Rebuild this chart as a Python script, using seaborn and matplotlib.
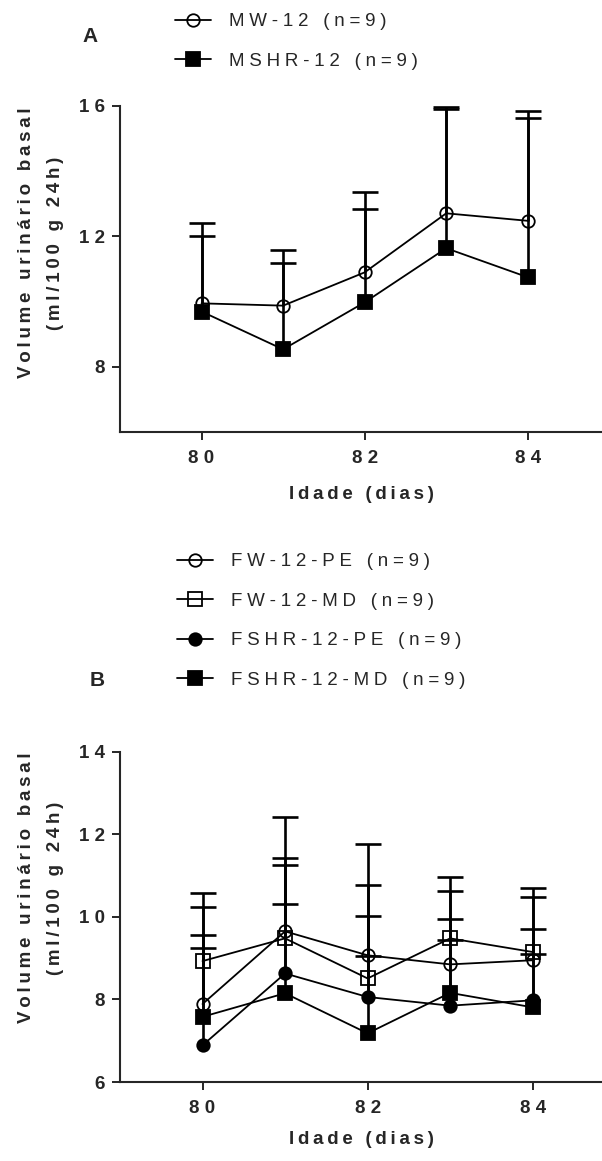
import numpy as np
import pandas as pd
import seaborn as sns
import matplotlib
matplotlib.use("Agg")
import matplotlib.pyplot as plt

# dias de idade
days = [80, 81, 82, 83, 84]

# painel A (machos)
mw_12 = [9.94, 9.87, 10.89, 12.70, 12.47]
mw_12_sd = [2.46, 1.72, 2.46, 3.20, 3.36]
mshr_12 = [9.69, 8.53, 9.97, 11.63, 10.74]
mshr_12_sd = [2.31, 2.64, 2.86, 4.32, 4.87]

# painel B (femeas)
fw_pe = [7.89, 9.65, 9.07, 8.85, 8.95]
fw_pe_sd = [2.35, 2.76, 2.69, 1.77, 1.53]
fw_md = [8.93, 9.48, 8.51, 9.48, 9.15]
fw_md_sd = [1.64, 1.95, 2.26, 1.49, 1.55]
fshr_pe = [6.89, 8.63, 8.06, 7.85, 7.98]
fshr_pe_sd = [2.35, 2.63, 1.96, 1.60, 1.72]
fshr_md = [7.58, 8.15, 7.18, 8.16, 7.81]
fshr_md_sd = [1.98, 2.16, 1.87, 1.78, 1.29]

labels_a = ["MW-12 (n=9)", "MSHR-12 (n=9)"]
labels_b = ["FW-12-PE (n=9)", "FW-12-MD (n=9)", "FSHR-12-PE (n=9)", "FSHR-12-MD (n=9)"]
ylab = "Volume urinário basal\n(ml/100 g 24h)"
xlab = "Idade (dias)"

FS = 13.5

sns.set_style("ticks")
plt.rcParams['font.family'] = ['Liberation Sans', 'DejaVu Sans']
plt.rcParams['font.size'] = FS


def sp(s, gap=" "):
    # letras espaçadas como no grafico original
    return "\n".join(gap.join(line) for line in s.split("\n"))


def serie(ax, y, sd, marker, filled, label):
    df = pd.DataFrame({"dia": days, "vol": y})
    sns.lineplot(data=df, x="dia", y="vol", ax=ax, color="black", lw=1.3,
                 marker=marker, ms=9 if marker == "o" else 10,
                 mfc="black" if filled else "none", mec="black", mew=1.3,
                 label=sp(label, "\u2005"), zorder=3)
    eb = ax.errorbar(days, y, yerr=[np.zeros(len(sd)), sd], fmt="none", ecolor="black",
                     elinewidth=1.9, capsize=9.5, capthick=1.9, zorder=2, clip_on=False)
    # so a barra de cima (sem cap no valor medio)
    eb[1][0].set_visible(False)


def style_axis(ax, xlim, ylim, yticks, ylabel_y, xlabel_y):
    ax.set_xlim(*xlim)
    ax.set_ylim(*ylim)
    ax.set_xticks([80, 82, 84], labels=[sp(str(t)) for t in [80, 82, 84]])
    ax.set_yticks(yticks, labels=[sp(str(t)) for t in yticks])
    for lab in ax.get_xticklabels() + ax.get_yticklabels():
        lab.set_fontweight("bold")
    ax.tick_params(axis="x", length=6, width=1.4, pad=7)
    ax.tick_params(axis="y", length=6, width=1.4, pad=5)
    sns.despine(ax=ax)
    for s in ["left", "bottom"]:
        ax.spines[s].set_linewidth(1.5)
    ax.set_ylabel(sp(ylab, "\u2009"), fontweight="bold", linespacing=1.95)
    ax.yaxis.set_label_coords(-0.116, ylabel_y)
    ax.set_xlabel(sp(xlab, "\u2009"), fontweight="bold")
    ax.xaxis.set_label_coords(0.5, xlabel_y)
    ax.get_legend().remove()


fig = plt.figure(figsize=(6.02, 11.61), dpi=100)

ax1 = fig.add_axes([0.1993, 0.628, 0.8007, 0.281])
serie(ax1, mw_12, mw_12_sd, "o", False, labels_a[0])
serie(ax1, mshr_12, mshr_12_sd, "s", True, labels_a[1])
h1, l1 = ax1.get_legend_handles_labels()
style_axis(ax1, (79, 84.91), (6, 16), [8, 12, 16], 0.579, -0.165)

ax2 = fig.add_axes([0.1993, 0.068, 0.8007, 0.2845])
serie(ax2, fw_pe, fw_pe_sd, "o", False, labels_b[0])
serie(ax2, fw_md, fw_md_sd, "s", False, labels_b[1])
serie(ax2, fshr_pe, fshr_pe_sd, "o", True, labels_b[2])
serie(ax2, fshr_md, fshr_md_sd, "s", True, labels_b[3])
h2, l2 = ax2.get_legend_handles_labels()
style_axis(ax2, (79, 84.84), (6, 14), [6, 8, 10, 12, 14], 0.587, -0.148)

leg_kw = dict(loc="upper left", frameon=False, handlelength=1.9, handletextpad=1.0,
              labelspacing=1.2, borderpad=0, borderaxespad=0, fontsize=FS)
fig.legend(h1, l1, bbox_to_anchor=(175 / 602, 1 - 13 / 1161), **leg_kw)
fig.legend(h2, l2, bbox_to_anchor=(177 / 602, 1 - 553 / 1161), **leg_kw)

fig.text(90 / 602, 1 - 37 / 1161, "A", fontweight="bold", fontsize=15, ha="center", va="center")
fig.text(97 / 602, 1 - 681 / 1161, "B", fontweight="bold", fontsize=15, ha="center", va="center")

fig.savefig("out.png", dpi=100)
